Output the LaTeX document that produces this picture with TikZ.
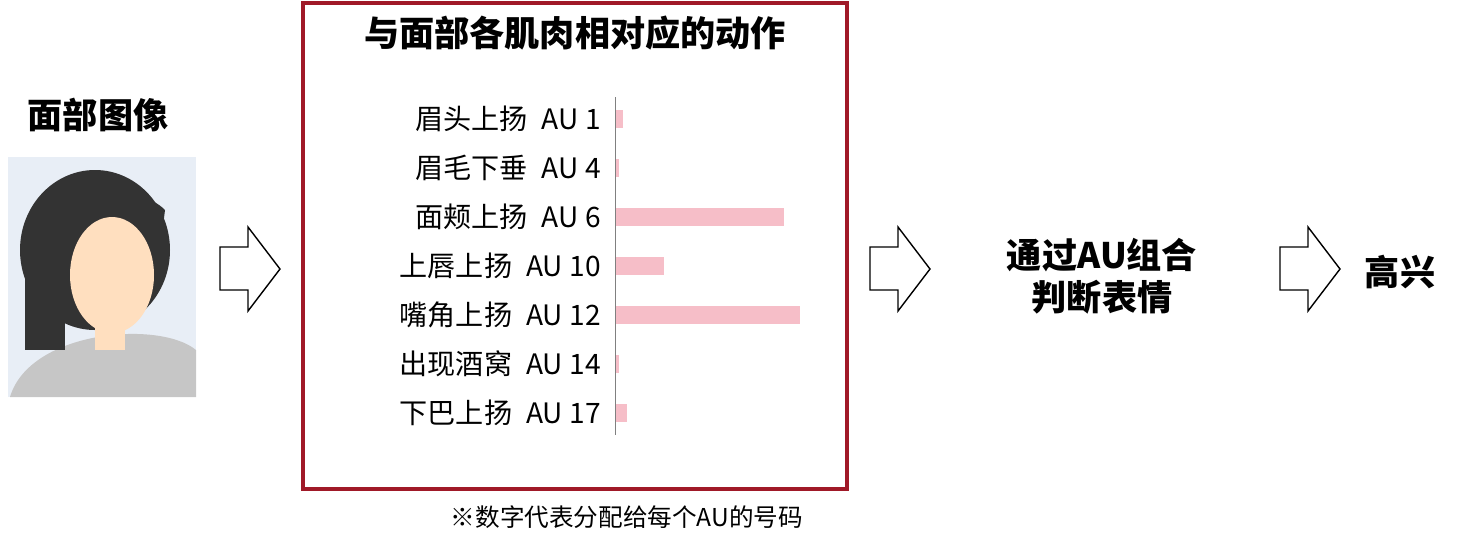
\documentclass[tikz,border=0pt]{standalone}
\usepackage{fontspec}
\setmainfont{Noto Sans CJK SC}
\usepackage{tikz}
\usetikzlibrary{positioning}
\definecolor{boxred}{RGB}{160,25,40}
\definecolor{barpink}{RGB}{246,190,200}
\definecolor{photobg}{RGB}{232,238,246}
\begin{document}
\begin{tikzpicture}
		[x=0.02cm,y=-0.02cm,
		every node/.style={inner sep=0pt},
		lbl/.style={anchor=east,font=\fontsize{16}{18}\selectfont},
		big/.style={font=\fontsize{20}{24}\selectfont\bfseries},
		bar/.style={fill=barpink,draw=none},
		hollow/.style={draw=black,fill=white,line width=0.8pt,line join=miter}]
		\useasboundingbox (0,0) rectangle (1460,552);
		% photo
		\node[big] (face) at (98,115) {面部图像};
		\begin{scope}
		\clip (8,157) rectangle (196,397);
		\fill[photobg] (8,157) rectangle (196,397);
		\fill[gray!45] (10,397) .. controls (30,330) and (160,320) .. (196,350) -- (196,397) -- cycle;
		\fill[black!80] (95,250) ellipse (75 and 80);
		\fill[black!80] (25,250) rectangle (65,350);
		\fill[orange!25!white] (112,275) ellipse (42 and 58);
		\fill[orange!25!white] (95,320) rectangle (125,350);
		\fill[black!80] (65,240) .. controls (100,200) and (150,210) .. (160,250) -- (165,210) .. controls (140,185) and (80,185) .. cycle;
		\end{scope}
		% red box
		\draw[boxred,line width=2.4pt] (303,3) rectangle (847,489);
		\node[big] (title) at (575,33) {与面部各肌肉相对应的动作};
		\draw[gray] (615,97) -- (615,435);
		\foreach \y/\t/\e in {119/眉头上扬\enspace AU 1/623, 168/眉毛下垂\enspace AU 4/619,
			217/面颊上扬\enspace AU 6/784, 266/上唇上扬\enspace AU 10/664,
			315/嘴角上扬\enspace AU 12/800, 364/出现酒窝\enspace AU 14/619,
			413/下巴上扬\enspace AU 17/627}{
			\node[lbl] at (601,\y) {\t};
			\fill[bar] (616,\y-9) rectangle (\e,\y+9);
		}
		\node[font=\fontsize{14}{16}\selectfont] (note) at (627,517) {※数字代表分配给每个AU的号码};
		% arrows
		\foreach \x in {220,870,1280}
		\draw[hollow] (\x,247) -- (\x+28,247) -- (\x+28,227) -- (\x+60,269) -- (\x+28,311) -- (\x+28,290) -- (\x,290) -- cycle;
		\node[big,align=center] (judge) at (1102,276) {通过AU组合\\判断表情};
		\node[big] (happy) at (1400,272) {高兴};
	\end{tikzpicture}
\end{document}
